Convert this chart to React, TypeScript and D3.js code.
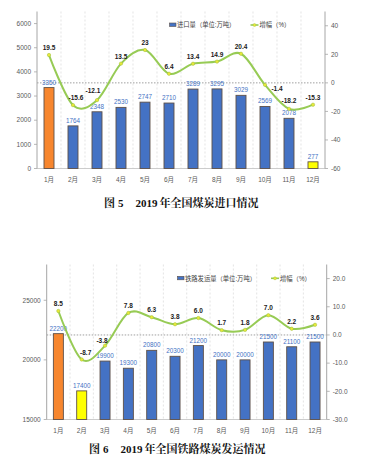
import React from 'react';
import * as d3 from 'd3';

const months = ['1月', '2月', '3月', '4月', '5月', '6月', '7月', '8月', '9月', '10月', '11月', '12月'];

const importVolume = [3350, 1764, 2348, 2530, 2747, 2710, 3289, 3295, 3029, 2569, 2078, 277];
const importGrowth = [19.5, -15.6, -12.1, 13.5, 23, 6.4, 13.4, 14.9, 20.4, -1.4, -18.2, -15.3];
const importLeftTicks = [0, 1000, 2000, 3000, 4000, 5000, 6000];
const importRightTicks = [-60, -40, -20, 0, 20, 40];

const railVolume = [22200, 17400, 19900, 19300, 20800, 20300, 21200, 20000, 20000, 21500, 21100, 21500];
const railGrowth = [8.5, -8.7, -3.8, 7.8, 6.3, 3.8, 6.0, 1.7, 1.8, 7.0, 2.2, 3.6];
const railLeftTicks = [15000, 20000, 25000];
const railRightTicks = [-30, -20, -10, 0, 10, 20];

// label nudges [dx, dy] relative to the point (layout, not data)
const importNudge: [number, number][] = months.map(() => [0, -5]);
importNudge[1] = [3, -5];
importNudge[2] = [-4, -7];
importNudge[9] = [12, 6];
importNudge[10] = [0, -6];
const railNudge: [number, number][] = months.map(() => [0, -5]);
railNudge[1] = [4, -4.5];
railNudge[2] = [-3, -3];

const BLUE = '#4472C4';
const ORANGE = '#F7862E';
const YELLOW = '#FFFF00';
const GREEN = '#97CB55';
const LATIN = '"Liberation Sans", Arial, "Noto Sans CJK SC", sans-serif';

type PanelProps = {
  left: number; right: number; top: number; bottom: number;
  leftDomain: [number, number]; rightDomain: [number, number];
  leftTicks: number[]; rightTicks: number[];
  rightFmt: (v: number) => string;
  volume: number[]; growth: number[]; growthFmt: (v: number) => string;
  barColors: string[]; barWidth: number;
  nudge: [number, number][];
  legendText: string; legendX: number; legendY: number; legend2X: number;
  figNo: string; title: string; captionY: number; captionX: number;
};

function Panel(p: PanelProps) {
  const x = d3.scaleBand<string>().domain(months).range([p.left, p.right]).paddingInner(0).paddingOuter(0);
  const yL = d3.scaleLinear().domain(p.leftDomain).range([p.bottom, p.top]);
  const yR = d3.scaleLinear().domain(p.rightDomain).range([p.bottom, p.top]);
  const cx = (m: string) => (x(m) as number) + x.bandwidth() / 2;
  const pts: [number, number][] = months.map((m, i) => [cx(m), yR(p.growth[i])]);
  const line = d3.line().curve(d3.curveCardinal.tension(0))(pts) as string;
  return (
    <g>
      {months.slice(1).map((m) => (
        <line key={'g' + m} x1={x(m)} x2={x(m)} y1={p.top} y2={p.bottom} stroke="#d9d9d9" strokeWidth={0.7} strokeDasharray="2,2" />
      ))}
      <line x1={p.left} x2={p.right} y1={yR(0)} y2={yR(0)} stroke="#777" strokeWidth={0.7} strokeDasharray="1.5,1.5" />
      <line x1={p.left} x2={p.right} y1={p.bottom} y2={p.bottom} stroke="#bfbfbf" strokeWidth={0.8} />
      {/* left axis */}
      <line x1={p.left} x2={p.left} y1={p.top} y2={p.bottom} stroke="#a6a6a6" strokeWidth={1} />
      {p.leftTicks.map((t) => (
        <g key={'l' + t}>
          <line x1={p.left - 3} x2={p.left} y1={yL(t)} y2={yL(t)} stroke="#a6a6a6" strokeWidth={0.8} />
          <text x={p.left - 6} y={yL(t) + 2.3} textAnchor="end" fontSize={6.5} fill="#595959" fontFamily={LATIN}>{t}</text>
        </g>
      ))}
      {/* right axis */}
      <line x1={p.right} x2={p.right} y1={p.top} y2={p.bottom} stroke="#a6a6a6" strokeWidth={1} />
      {p.rightTicks.map((t) => (
        <g key={'r' + t}>
          <line x1={p.right} x2={p.right + 3} y1={yR(t)} y2={yR(t)} stroke="#a6a6a6" strokeWidth={0.8} />
          <text x={p.right + 6} y={yR(t) + 2.3} textAnchor="start" fontSize={6.5} fill="#595959" fontFamily={LATIN}>{p.rightFmt(t)}</text>
        </g>
      ))}
      {/* bars */}
      {months.map((m, i) => {
        const y0 = yL(p.volume[i]);
        return (
          <g key={'b' + m}>
            <rect x={cx(m) - p.barWidth / 2} y={y0} width={p.barWidth} height={p.bottom - y0}
              fill={p.barColors[i]} stroke="#5e5048" strokeWidth={0.9} />
            <text x={cx(m)} y={y0 - 3} textAnchor="middle" fontSize={6.3} fill={BLUE} fontFamily={LATIN}>{p.volume[i]}</text>
          </g>
        );
      })}
      {/* line */}
      <path d={line} fill="none" stroke={GREEN} strokeWidth={2} />
      {pts.map(([px, py], i) => (
        <g key={'p' + i}>
          <circle cx={px} cy={py} r={1.7} fill="#E8E83A" stroke="#9ABF3A" strokeWidth={0.5} />
          <text x={px + p.nudge[i][0]} y={py + p.nudge[i][1]} textAnchor="middle" fontSize={6.5} fontWeight="bold" fill="#1a1a1a" fontFamily={LATIN}>{p.growthFmt(p.growth[i])}</text>
        </g>
      ))}
      {/* month labels */}
      {months.map((m) => (
        <text key={'m' + m} x={cx(m)} y={p.bottom + 13} textAnchor="middle" fontSize={6.5} fill="#595959" fontFamily={LATIN}>{m}</text>
      ))}
      {/* legend */}
      <rect x={p.legendX} y={p.legendY - 2} width={6.5} height={3.5} fill={BLUE} stroke="#5e5048" strokeWidth={0.6} />
      <text x={p.legendX + 7.5} y={p.legendY + 2.3} fontSize={6.3} fill="#404040" fontFamily={LATIN}>{p.legendText}</text>
      <line x1={p.legend2X} x2={p.legend2X + 8} y1={p.legendY} y2={p.legendY} stroke={GREEN} strokeWidth={1.6} />
      <circle cx={p.legend2X + 4} cy={p.legendY} r={1.5} fill="#E8E83A" stroke="#9ABF3A" strokeWidth={0.4} />
      <text x={p.legend2X + 9} y={p.legendY + 2.3} fontSize={6.3} fill="#404040" fontFamily={LATIN}>增幅（%）</text>
      {/* caption */}
      <text x={p.captionX} y={p.captionY} textAnchor="start" fontSize={11} fontWeight="bold" fill="#111"
        fontFamily='"Liberation Serif", "Noto Serif CJK SC", "Noto Sans CJK SC", serif'>
        <tspan>图</tspan>
        <tspan dx={3}>{p.figNo}</tspan>
        <tspan dx={12}>2019</tspan>
        <tspan dx={2}>{p.title}</tspan>
      </text>
    </g>
  );
}

export default function App() {
  const importColors = months.map((_, i) => (i === 0 ? ORANGE : i === 11 ? YELLOW : BLUE));
  const railColors = months.map((_, i) => (i === 0 ? ORANGE : i === 1 ? YELLOW : BLUE));
  return (
    <svg width={367} height={467} style={{ position: 'absolute', left: 0, top: 0, background: '#fff' }}>
      <rect width={367} height={467} fill="#fff" />
      <Panel
        left={37} right={325} top={11.5} bottom={168.5}
        leftDomain={[0, 6500]} rightDomain={[-60, 50]}
        leftTicks={importLeftTicks} rightTicks={importRightTicks}
        rightFmt={(v) => String(v)}
        volume={importVolume} growth={importGrowth} growthFmt={(v) => String(v)}
        barColors={importColors} barWidth={10}
        nudge={importNudge}
        legendText="进口量（单位:万吨）" legendX={169.5} legendY={25} legend2X={250.5}
        figNo="5" title="年全国煤炭进口情况" captionY={207} captionX={104}
      />
      <Panel
        left={46.7} right={326.7} top={264.5} bottom={419.5}
        leftDomain={[15000, 28000]} rightDomain={[-30, 25]}
        leftTicks={railLeftTicks} rightTicks={railRightTicks}
        rightFmt={(v) => v.toFixed(1)}
        volume={railVolume} growth={railGrowth} growthFmt={(v) => v.toFixed(1)}
        barColors={railColors} barWidth={10}
        nudge={railNudge}
        legendText="铁路发运量（单位:万吨）" legendX={177.5} legendY={278.3} legend2X={271}
        figNo="6" title="年全国铁路煤炭发运情况" captionY={453} captionX={89}
      />
    </svg>
  );
}
